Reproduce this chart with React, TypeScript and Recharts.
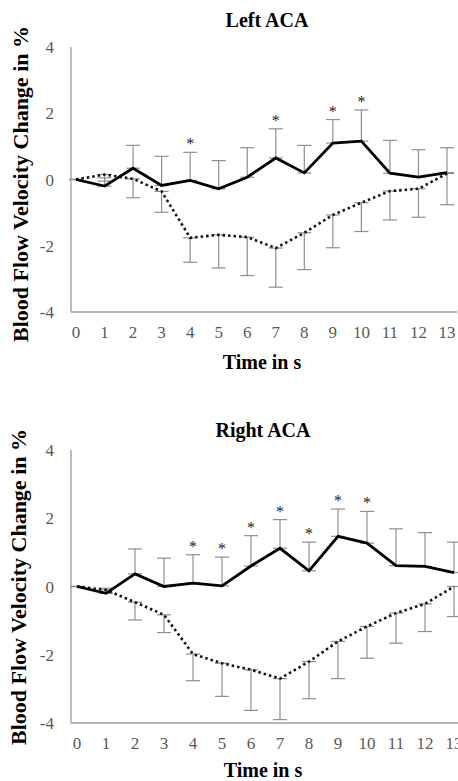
import React from "react";
import { LineChart, Line, XAxis, YAxis, ErrorBar, LabelList } from "recharts";

const time = [0, 1, 2, 3, 4, 5, 6, 7, 8, 9, 10, 11, 12, 13];
const yTicks = [-4, -2, 0, 2, 4];

// Left ACA
const leftSolid = [0, -0.2, 0.34, -0.18, -0.03, -0.28, 0.07, 0.65, 0.2, 1.1, 1.16, 0.19, 0.07, 0.21];
const leftSolidSd = [0, 0.25, 0.69, 0.88, 0.85, 0.85, 0.89, 0.88, 0.83, 0.71, 0.94, 0.99, 0.83, 0.75];
const leftDotted = [0, 0.15, 0.02, -0.36, -1.76, -1.67, -1.74, -2.07, -1.61, -1.07, -0.7, -0.35, -0.28, 0.18];
const leftDottedSd = [0, 0.2, 0.57, 0.63, 0.74, 1.0, 1.16, 1.18, 1.11, 0.99, 0.87, 0.87, 0.86, 0.94];
const leftSig = [4, 7, 9, 10];

// Right ACA
const rightSolid = [0, -0.2, 0.37, 0.0, 0.1, 0.02, 0.6, 1.12, 0.46, 1.47, 1.27, 0.61, 0.59, 0.41];
const rightSolidSd = [0, 0.15, 0.73, 0.83, 0.83, 0.84, 0.89, 0.84, 0.84, 0.8, 0.93, 1.08, 0.99, 0.89];
const rightDotted = [0, -0.1, -0.46, -0.83, -1.98, -2.25, -2.44, -2.7, -2.2, -1.61, -1.17, -0.78, -0.51, 0.0];
const rightDottedSd = [0, 0.1, 0.52, 0.52, 0.78, 0.97, 1.19, 1.2, 1.09, 1.09, 0.93, 0.88, 0.81, 0.88];
const rightSig = [4, 5, 6, 7, 8, 9, 10];

const serif = "Liberation Serif";
const axisGrey = "#9a9a9a";
const barGrey = "#8f8f8f";

function buildRows(solid: number[], solidSd: number[], dotted: number[], dottedSd: number[], sig: number[]) {
  return time.map((t, i) => ({
    t,
    solid: solid[i],
    solidErr: [0, solidSd[i]],
    dotted: dotted[i],
    dottedErr: [dottedSd[i], 0],
    top: solid[i] + solidSd[i],
    star: sig.includes(t) ? "*" : "",
  }));
}

function Panel(props: {
  rows: any[];
  width: number;
  height: number;
  top: number;
  right: number;
  xAxisH: number;
  padLeft: number;
}) {
  const { rows, width, height, top, right, xAxisH, padLeft } = props;
  return (
    <LineChart width={width} height={height} data={rows} margin={{ top, right, bottom: 0, left: 0 }}>
      <XAxis
        dataKey="t"
        type="number"
        domain={[0, 13]}
        ticks={time}
        interval={0}
        padding={{ left: padLeft, right: 10 }}
        height={xAxisH}
        tickLine={false}
        tickSize={0}
        tickMargin={14}
        axisLine={{ stroke: axisGrey, strokeWidth: 1.3 }}
        tick={{ fill: "#595959", fontSize: 17, fontFamily: serif }}
      />
      <YAxis
        type="number"
        domain={[-4, 4]}
        ticks={yTicks}
        allowDataOverflow
        width={71}
        tickLine={false}
        tickSize={0}
        tickMargin={17}
        axisLine={{ stroke: axisGrey, strokeWidth: 1.3 }}
        tick={{ fill: "#595959", fontSize: 17, fontFamily: serif }}
      />
      {/* error bars first, so the lines sit on top of the caps at the means */}
      <Line dataKey="solid" stroke="none" dot={false} activeDot={false} isAnimationActive={false}>
        <ErrorBar dataKey="solidErr" direction="y" width={7} stroke={barGrey} strokeWidth={1.2} />
      </Line>
      <Line dataKey="dotted" stroke="none" dot={false} activeDot={false} isAnimationActive={false}>
        <ErrorBar dataKey="dottedErr" direction="y" width={7} stroke={barGrey} strokeWidth={1.2} />
      </Line>
      <Line
        type="linear"
        dataKey="dotted"
        stroke="#111"
        strokeWidth={2.6}
        strokeDasharray="2.5 3"
        dot={false}
        activeDot={false}
        isAnimationActive={false}
      />
      <Line
        type="linear"
        dataKey="solid"
        stroke="#000"
        strokeWidth={2.8}
        dot={false}
        activeDot={false}
        isAnimationActive={false}
      />
      <Line dataKey="top" stroke="none" dot={false} activeDot={false} isAnimationActive={false}>
        <LabelList dataKey="star" position="top" offset={3} fill="#222" fontSize={16} fontFamily={serif} />
      </Line>
    </LineChart>
  );
}

const titleStyle: React.CSSProperties = {
  position: "absolute",
  fontFamily: serif,
  fontWeight: "bold",
  fontSize: 20,
  lineHeight: "20px",
  color: "#000",
  whiteSpace: "nowrap",
  transform: "translateX(-50%)",
};

function YLabel({ cx, cy }: { cx: number; cy: number }) {
  return (
    <div
      style={{
        position: "absolute",
        left: cx - 170,
        top: cy - 11,
        width: 340,
        height: 22,
        lineHeight: "22px",
        textAlign: "center",
        fontFamily: serif,
        fontWeight: "bold",
        fontSize: 22,
        whiteSpace: "nowrap",
        transform: "rotate(-90deg)",
      }}
    >
      Blood Flow Velocity Change in %
    </div>
  );
}

export default function App() {
  const leftRows = buildRows(leftSolid, leftSolidSd, leftDotted, leftDottedSd, leftSig);
  const rightRows = buildRows(rightSolid, rightSolidSd, rightDotted, rightDottedSd, rightSig);
  return (
    <div
      style={{
        position: "absolute",
        left: 0,
        top: 0,
        width: 458,
        height: 781,
        overflow: "hidden",
        background: "#fff",
      }}
    >
      <div style={{ position: "absolute", left: 0, top: 0 }}>
        <Panel rows={leftRows} width={458} height={390} top={47} right={1} xAxisH={78} padLeft={5} />
      </div>
      <div style={{ position: "absolute", left: 0, top: 390 }}>
        <Panel rows={rightRows} width={470} height={391} top={60} right={6} xAxisH={58} padLeft={6} />
      </div>
      <div style={{ ...titleStyle, left: 267, top: 10 }}>Left ACA</div>
      <div style={{ ...titleStyle, left: 262, top: 352 }}>Time in s</div>
      <div style={{ ...titleStyle, left: 263, top: 420 }}>Right ACA</div>
      <div style={{ ...titleStyle, left: 263, top: 760 }}>Time in s</div>
      <YLabel cx={21} cy={184} />
      <YLabel cx={19} cy={587} />
    </div>
  );
}
